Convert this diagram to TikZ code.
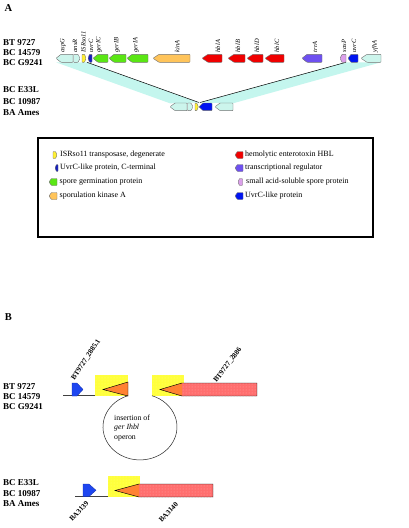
\documentclass[tikz,border=0pt]{standalone}
\usepackage{fontspec}
\setmainfont{Liberation Serif}
\usetikzlibrary{patterns}
\definecolor{cyanL}{RGB}{204,245,236}
\definecolor{bandC}{RGB}{196,246,238}
\definecolor{isrY}{RGB}{255,240,50}
\definecolor{uvrD}{RGB}{20,30,190}
\definecolor{uvrB}{RGB}{0,20,240}
\definecolor{gerG}{RGB}{90,230,20}
\definecolor{kinO}{RGB}{255,196,90}
\definecolor{hblR}{RGB}{240,0,0}
\definecolor{trrP}{RGB}{110,80,240}
\definecolor{sasV}{RGB}{220,160,235}
\definecolor{bBlue}{RGB}{30,70,240}
\definecolor{bYel}{RGB}{255,255,60}
\definecolor{bOra}{RGB}{255,130,50}
\definecolor{bPink}{RGB}{255,110,110}
% left-pointing gene: name, x1, x2, yc, tip, half height, colour
\newcommand\gL[7]{%
  \draw[gene,fill=#7] (#2,#4) -- (#2+#5,#4-#6) -- (#3,#4-#6) -- (#3,#4+#6) -- (#2+#5,#4+#6) -- cycle;
  \coordinate (#1) at ({(#2+#3)/2},#4);}
% right-pointing gene
\newcommand\gR[7]{%
  \draw[gene,fill=#7] (#2,#4-#6) -- (#3-#5,#4-#6) -- (#3,#4) -- (#3-#5,#4+#6) -- (#2,#4+#6) -- cycle;
  \coordinate (#1) at ({(#2+#3)/2},#4);}
\begin{document}
\begin{tikzpicture}[x=1pt,y=-1pt,
  gene/.style={draw=black!55,line width=0.4pt,rounded corners=0.6pt},
  glab/.style={rotate=90,anchor=west,inner sep=0pt,font=\fontsize{6.5}{7}\selectfont\itshape},
  slab/.style={anchor=west,inner sep=0pt,font=\fontsize{9}{10}\selectfont\bfseries},
  panel/.style={inner sep=0pt,font=\fontsize{10.5}{11}\selectfont\bfseries},
  ltext/.style={anchor=west,inner sep=0pt,font=\fontsize{8}{9}\selectfont},
  blab/.style={inner sep=0pt,font=\fontsize{7.2}{8}\selectfont\bfseries},
  bline/.style={draw=black!75,line width=0.8pt},
  outl/.style={draw=black,line width=0.45pt}]
\useasboundingbox (0,0) rectangle (408,528);
\fill[white] (0,0) rectangle (408,528);

% ---------------- Panel A ----------------
\node[panel] (pA) at (8.5,8.5) {A};
\node[slab] (s1) at (3,43) {BT 9727};
\node[slab] (s2) at (3,53) {BC 14579};
\node[slab] (s3) at (3,63) {BC G9241};
\node[slab] (s4) at (3,89.5) {BC E33L};
\node[slab] (s5) at (3,101.5) {BC 10987};
\node[slab] (s6) at (3,113) {BA Ames};

% connection points
\coordinate (uL) at (56,62.3);
\coordinate (uI) at (87,62.3);
\coordinate (uS) at (346,62.3);
\coordinate (uY) at (381,62.3);
\coordinate (lA) at (170,103.3);
\coordinate (lI) at (199,102.5);
\coordinate (lU) at (200,102.5);
\coordinate (lY) at (233,103.3);
\fill[bandC] (uL) -- (uI) -- (lI) -- (lA) -- cycle;
\fill[bandC] (uS) -- (uY) -- (lY) -- (lU) -- cycle;
\draw[black,line width=0.5pt] (uI) -- (lI);
\draw[black,line width=0.5pt] (uS) -- (lU);

% upper row
\gL{aspGu}{56}{73}{58.3}{5}{4}{cyanL}
\gR{ansRu}{73.5}{80}{58.3}{2}{4}{cyanL}
\gR{isru}{82}{86}{58.3}{1.5}{4}{isrY}
\gL{uvrCu}{88}{92}{58.3}{1.5}{4}{uvrD}
\gL{gerICu}{93}{108}{58.3}{5}{4}{gerG}
\gL{gerIBu}{109}{126}{58.3}{5}{4}{gerG}
\gL{gerIAu}{127}{148}{58.3}{5}{4}{gerG}
\gL{kinAu}{153}{190}{58.3}{6}{4}{kinO}
\gL{hblAu}{202}{222}{58.3}{6}{4}{hblR}
\gL{hblBu}{228}{245}{58.3}{6}{4}{hblR}
\gL{hblDu}{247}{263}{58.3}{6}{4}{hblR}
\gL{hblCu}{265}{284}{58.3}{6}{4}{hblR}
\gL{trrAu}{302}{322}{58.3}{5}{4}{trrP}
\gL{sasPu}{340}{346}{58.3}{2}{4}{sasV}
\gL{uvrCbu}{348}{358}{58.3}{3}{4}{uvrB}
\gL{yfhAu}{361}{381}{58.3}{6}{4}{cyanL}

% gene labels
\node[glab] (t1) at (63,52.5) {aspG};
\node[glab] (t2) at (75,52.5) {ansR};
\node[glab] (t3) at (83.5,52.5) {ISRso11};
\node[glab] (t4) at (91,52.5) {uvrC};
\node[glab] (t5) at (99,52.5) {gerIC};
\node[glab] (t6) at (117,52.5) {gerIB};
\node[glab] (t7) at (136,52.5) {gerIA};
\node[glab] (t8) at (177,52.5) {kinA};
\node[glab] (t9) at (218,52.5) {hblA};
\node[glab] (t10) at (238,52.5) {hblB};
\node[glab] (t11) at (257,52.5) {hblD};
\node[glab] (t12) at (277,52.5) {hblC};
\node[glab] (t13) at (315,52.5) {trrA};
\node[glab] (t14) at (344,52.5) {sasP};
\node[glab] (t15) at (354,52.5) {uvrC};
\node[glab] (t16) at (375,52.5) {yfhA};

% lower row
\gL{aspGl}{170}{187}{106.8}{5}{3.8}{cyanL}
\gR{ansRl}{187.5}{193}{106.8}{2}{3.8}{cyanL}
\gR{isrl}{195}{198.3}{106.8}{1.5}{3.8}{isrY}
\gL{uvrCl}{199}{212}{106.8}{4}{3.8}{uvrB}
\gL{yfhAl}{215}{233}{106.8}{5}{3.8}{cyanL}

% legend
\node[draw=black,line width=1.3pt,minimum width=335pt,minimum height=99pt,inner sep=0pt] (leg) at (205.5,187.5) {};
\gR{k1}{53}{57}{155}{1.5}{3.5}{isrY}
\node[ltext] (l1) at (60,155) {ISRso11 transposase, degenerate};
\gL{k2}{55}{58}{168}{1.5}{3.5}{uvrD}
\node[ltext] (l2) at (60,168) {UvrC-like protein, C-terminal};
\gL{k3}{49}{57}{182}{2.5}{3.5}{gerG}
\node[ltext] (l3) at (59.5,182) {spore germination protein};
\gL{k4}{49}{57}{196}{2.5}{3.5}{kinO}
\node[ltext] (l4) at (59.5,196) {sporulation kinase A};
\gL{k5}{235}{243}{155}{2.5}{3.5}{hblR}
\node[ltext] (l5) at (245,155) {hemolytic enterotoxin HBL};
\gL{k6}{235}{243}{168}{2.5}{3.5}{trrP}
\node[ltext] (l6) at (245,168) {transcriptional regulator};
\gL{k7}{238}{242.5}{182}{1.5}{3.5}{sasV}
\node[ltext] (l7) at (246,182) {small acid-soluble spore protein};
\gL{k8}{235}{243}{196}{2.5}{3.5}{uvrB}
\node[ltext] (l8) at (245,196) {UvrC-like protein};

% ---------------- Panel B ----------------
\node[panel] (pB) at (8.5,317) {B};
\node[slab] (b1) at (3,387) {BT 9727};
\node[slab] (b2) at (3,397) {BC 14579};
\node[slab] (b3) at (3,406.5) {BC G9241};
\node[slab] (b4) at (3,483) {BC E33L};
\node[slab] (b5) at (3,493.5) {BC 10987};
\node[slab] (b6) at (3,504) {BA Ames};

% upper construct
\coordinate (ua) at (63,395.7);
\coordinate (ub) at (128,395.7);
\coordinate (uc) at (152,395.7);
\coordinate (ud) at (182,395.7);
\draw[bline] (ua) -- (ub);
\draw[bline] (uc) -- (ud);
\fill[bYel] (95,375) rectangle (128,395.7);
\fill[pattern=dots,pattern color=yellow!55!white] (95,375) rectangle (128,395.7);
\fill[bYel] (152,375) rectangle (184,395.7);
\fill[pattern=dots,pattern color=yellow!55!white] (152,375) rectangle (184,395.7);
\filldraw[fill=bBlue,draw=bBlue!70!black,line width=0.3pt] (72,383) -- (77,383) -- (83,389.5) -- (77,396) -- (72,396) -- cycle;
\filldraw[fill=bOra,outl] (103,389.5) -- (128,382) -- (128,396) -- cycle;
\fill[bPink] (182,383) rectangle (257,396);
\fill[pattern=dots,pattern color=red!35!white] (182,383) rectangle (257,396);
\fill[bOra] (160,389.5) -- (182,383) -- (182,396) -- cycle;
\draw[outl] (160,389.5) -- (182,383) -- (257,383) -- (257,396) -- (182,396) -- cycle;
\node[blab,rotate=57,anchor=west] (n1) at (73,380) {BT9727\_2885.1};
\node[blab,rotate=53,anchor=west] (n2) at (215,382) {BT9727\_2886};

% insertion loop
\draw[black!85,line width=0.5pt] (ub) arc[start angle=108.9,end angle=431.1,x radius=37pt,y radius=33pt];
\node[anchor=west,align=left,inner sep=0pt,font=\fontsize{7.8}{9.5}\selectfont] (ins) at (114,428) {insertion of\\\textit{ger Ihbl}\\operon};

% lower construct
\coordinate (la) at (75,496.6);
\coordinate (lb) at (140,496.6);
\draw[bline] (la) -- (lb);
\fill[bYel] (108,476) rectangle (140,496.6);
\fill[pattern=dots,pattern color=yellow!55!white] (108,476) rectangle (140,496.6);
\filldraw[fill=bBlue,draw=bBlue!70!black,line width=0.3pt] (83,484) -- (89,484) -- (96,490.3) -- (89,496.6) -- (83,496.6) -- cycle;
\fill[bPink] (139,484) rectangle (213,497);
\fill[pattern=dots,pattern color=red!35!white] (139,484) rectangle (213,497);
\fill[bOra] (115,490.5) -- (139,484) -- (139,497) -- cycle;
\draw[outl] (115,490.5) -- (139,484) -- (213,484) -- (213,497) -- (139,497) -- cycle;
\node[blab,rotate=47,anchor=east] (n3) at (87.5,502) {BA3139};
\node[blab,rotate=47,anchor=east] (n4) at (177,503) {BA3140};
\end{tikzpicture}
\end{document}
